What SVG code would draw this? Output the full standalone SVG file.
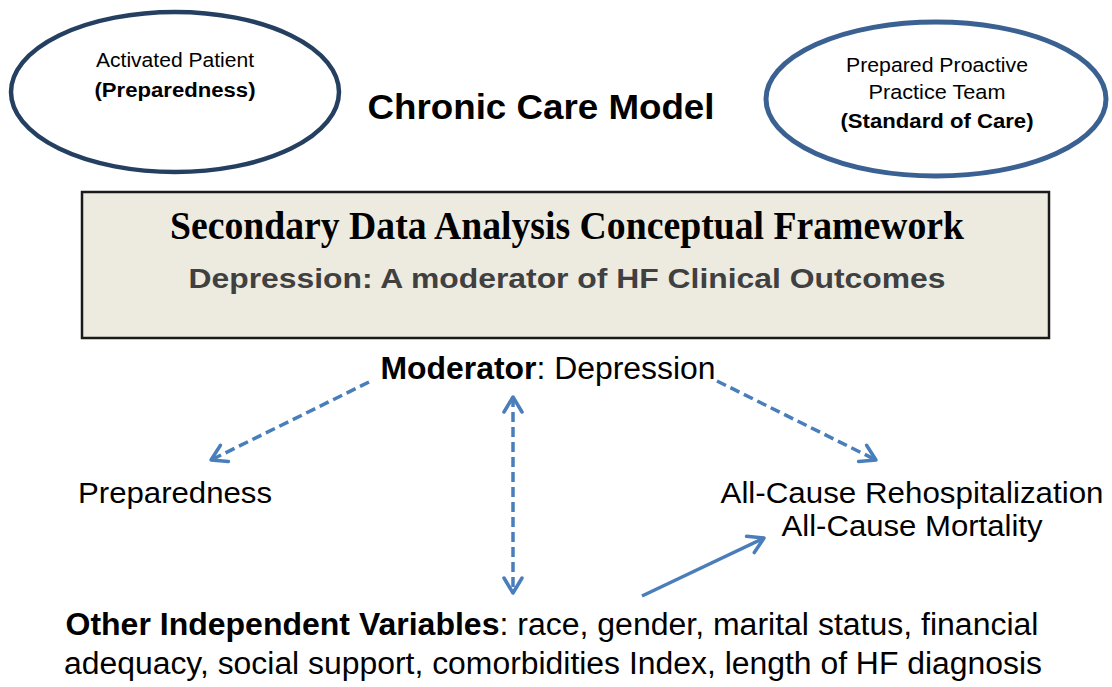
<svg xmlns="http://www.w3.org/2000/svg" width="1112" height="687" viewBox="0 0 1112 687">
<defs>
<style>
.sans{font-family:"Liberation Sans",Arial,sans-serif;fill:#000}
.serif{font-family:"Liberation Serif","Times New Roman",serif;fill:#000}
.b{font-weight:bold}
.conn{stroke:#4a7ebb;stroke-width:3.5;fill:none}
.dash{stroke-dasharray:10 5}
</style>
<marker id="arr" viewBox="0 0 22 24" refX="19" refY="12" markerWidth="22" markerHeight="24" markerUnits="userSpaceOnUse" orient="auto-start-reverse">
<path d="M4,3 L19,12 L4,21" fill="none" stroke="#4a7ebb" stroke-width="3.5" stroke-linecap="round" stroke-linejoin="round"/>
</marker>
</defs>
<rect width="1112" height="687" fill="#fff"/>

<g id="activated-patient">
<ellipse cx="175" cy="92" rx="164" ry="80" fill="#fff" stroke="#243f60" stroke-width="4.5"/>
<text class="sans" x="175" y="67" font-size="20" text-anchor="middle" textLength="158" lengthAdjust="spacingAndGlyphs">Activated Patient</text>
<text class="sans b" x="175" y="97" font-size="20" text-anchor="middle" textLength="161" lengthAdjust="spacingAndGlyphs">(Preparedness)</text>
</g>

<g id="practice-team">
<ellipse cx="936" cy="99" rx="170" ry="77" fill="#fff" stroke="#3a6191" stroke-width="5"/>
<text class="sans" x="937" y="72" font-size="20.5" text-anchor="middle" textLength="182" lengthAdjust="spacingAndGlyphs">Prepared Proactive</text>
<text class="sans" x="937" y="99" font-size="20.5" text-anchor="middle" textLength="137" lengthAdjust="spacingAndGlyphs">Practice Team</text>
<text class="sans b" x="937" y="128" font-size="20.5" text-anchor="middle" textLength="193" lengthAdjust="spacingAndGlyphs">(Standard of Care)</text>
</g>

<g id="title">
<text class="sans b" x="541" y="119" font-size="35" text-anchor="middle" textLength="347" lengthAdjust="spacingAndGlyphs">Chronic Care Model</text>
</g>

<g id="framework">
<rect x="82" y="192" width="967" height="146" fill="#edebe0" stroke="#1a1a1a" stroke-width="2.5"/>
<text class="serif b" x="567" y="239" font-size="39" text-anchor="middle" textLength="794" lengthAdjust="spacingAndGlyphs">Secondary Data Analysis Conceptual Framework</text>
<text class="sans b" x="567" y="288" font-size="28" text-anchor="middle" textLength="757" lengthAdjust="spacingAndGlyphs" style="fill:#404040">Depression: A moderator of HF Clinical Outcomes</text>
</g>

<g id="moderator">
<text class="sans" x="548" y="379" font-size="31" text-anchor="middle" textLength="335" lengthAdjust="spacingAndGlyphs"><tspan class="b">Moderator</tspan>: Depression</text>
</g>

<g id="preparedness">
<text class="sans" x="175" y="503" font-size="29.5" text-anchor="middle" textLength="194" lengthAdjust="spacingAndGlyphs">Preparedness</text>
</g>

<g id="outcomes">
<text class="sans" x="912" y="503" font-size="29.5" text-anchor="middle" textLength="383" lengthAdjust="spacingAndGlyphs">All-Cause Rehospitalization</text>
<text class="sans" x="912" y="536" font-size="29.5" text-anchor="middle" textLength="261" lengthAdjust="spacingAndGlyphs">All-Cause Mortality</text>
</g>

<g id="independent-variables">
<text class="sans" x="552" y="635" font-size="31" text-anchor="middle" textLength="973" lengthAdjust="spacingAndGlyphs"><tspan class="b">Other Independent Variables</tspan>: race, gender, marital status, financial</text>
<text class="sans" x="553" y="674" font-size="31" text-anchor="middle" textLength="978" lengthAdjust="spacingAndGlyphs">adequacy, social support, comorbidities Index, length of HF diagnosis</text>
</g>

<g id="connectors">
<line class="conn dash" x1="369" y1="382" x2="211" y2="460" marker-end="url(#arr)"/>
<line class="conn dash" x1="717" y1="381" x2="876" y2="460" marker-end="url(#arr)"/>
<line class="conn dash" x1="513" y1="397" x2="513" y2="593" marker-start="url(#arr)" marker-end="url(#arr)"/>
<line class="conn" x1="642" y1="596" x2="764" y2="538" marker-end="url(#arr)"/>
</g>
</svg>
